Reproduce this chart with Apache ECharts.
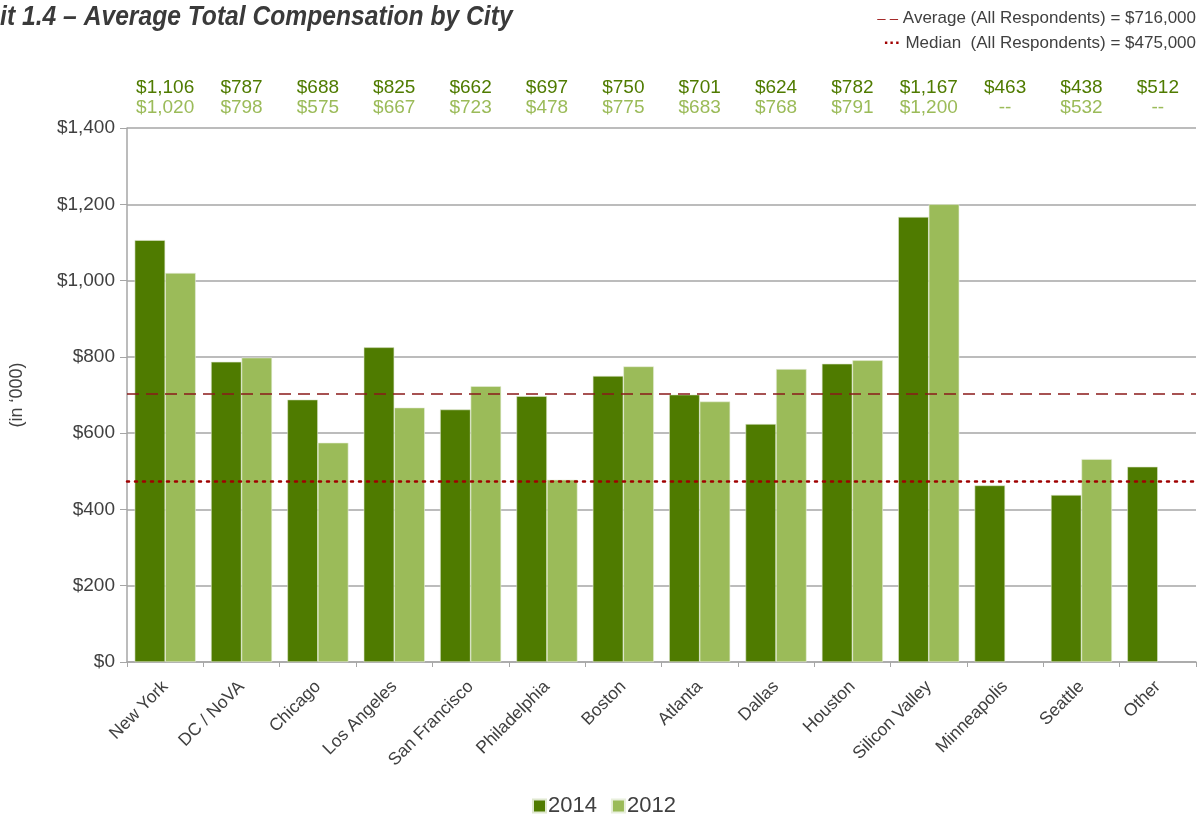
<!DOCTYPE html>
<html>
<head>
<meta charset="utf-8">
<script src="https://cdn.jsdelivr.net/npm/echarts@6/dist/echarts.min.js"></script>
<style>
  html, body { margin: 0; padding: 0; background: #fff; }
  #chart { width: 1202px; height: 817px; }
</style>
</head>
<body>
<div id="chart"></div>
<script>
// data
var cities = ['New York', 'DC / NoVA', 'Chicago', 'Los Angeles', 'San Francisco', 'Philadelphia',
  'Boston', 'Atlanta', 'Dallas', 'Houston', 'Silicon Valley', 'Minneapolis', 'Seattle', 'Other']
var comp2014 = [1106, 787, 688, 825, 662, 697, 750, 701, 624, 782, 1167, 463, 438, 512]
var comp2012 = [1020, 798, 575, 667, 723, 478, 775, 683, 768, 791, 1200, null, 532, null]
var yTicks = [0, 200, 400, 600, 800, 1000, 1200, 1400]
var averageLine = 704   // dashed line as drawn
var medianLine = 473    // dotted line as drawn
var averageText = 'Average (All Respondents) = $716,000'
var medianText = 'Median  (All Respondents) = $475,000'

var dark = '#4f7b00'
var light = '#9bbb59'

function money (v) {
  if (v === null || v === undefined) return '--'
  return '$' + v.toLocaleString('en-US')
}

var chart = echarts.init(document.getElementById('chart'))
chart.setOption({
  animation: false,
  textStyle: { fontFamily: 'Liberation Sans, Arial, sans-serif' },
  graphic: [
    {
      // title, squeezed to look like the condensed face of the original
      type: 'text',
      x: -67,
      y: 3,
      scaleX: 0.88,
      style: {
        text: 'Exhibit 1.4 \u2013 Average Total Compensation by City',
        font: 'italic bold 28px Liberation Sans, Arial',
        fill: '#3a3a3a'
      }
    },
    {
      type: 'text',
      right: 6,
      top: 10,
      style: {
        text: '{r|\u2013 \u2013} ' + averageText,
        font: '17px Liberation Sans, Arial',
        fill: '#404040',
        rich: { r: { fill: '#a52a2a', fontSize: 15 } }
      }
    },
    {
      type: 'text',
      right: 6,
      top: 35,
      style: {
        text: '{r|\u00b7\u00b7\u00b7} ' + medianText,
        font: '17px Liberation Sans, Arial',
        fill: '#404040',
        rich: { r: { fill: '#a00000', fontSize: 17, fontWeight: 'bold' } }
      }
    }
  ],
  legend: {
    top: 790,
    left: 527,
    itemWidth: 13,
    itemHeight: 13,
    itemGap: 14,
    icon: 'rect',
    textStyle: { fontSize: 22, color: '#404040', padding: [0, 0, 0, -3] },
    data: ['2014', '2012']
  },
  grid: { left: 127, right: 6, top: 128, bottom: 155 },
  xAxis: [
    {
      type: 'category',
      data: cities,
      axisLine: { lineStyle: { color: '#a6a6a6', width: 1.5 } },
      axisTick: { show: true, length: 5, lineStyle: { color: '#a6a6a6' } },
      axisLabel: {
        rotate: 45,
        fontSize: 17.5,
        color: '#404040',
        margin: 22,
        interval: 0
      }
    },
    {
      type: 'category',
      position: 'top',
      data: cities,
      axisLine: { show: false },
      axisTick: { show: false },
      axisLabel: {
        interval: 0,
        margin: 10,
        formatter: function (v, i) {
          return '{a|' + money(comp2014[i]) + '}\n{b|' + money(comp2012[i]) + '}'
        },
        rich: {
          a: { color: dark, fontSize: 19, lineHeight: 20, align: 'center' },
          b: { color: light, fontSize: 19, lineHeight: 20, align: 'center' }
        }
      }
    }
  ],
  yAxis: {
    type: 'value',
    min: yTicks[0],
    max: yTicks[yTicks.length - 1],
    interval: 200,
    name: "(in \u2018000)",
    nameLocation: 'middle',
    nameRotate: 90,
    nameGap: 101,
    nameTextStyle: { fontSize: 18, color: '#404040' },
    axisLine: { show: true, lineStyle: { color: '#a6a6a6', width: 1.5 } },
    axisTick: { show: true, length: 7, lineStyle: { color: '#a6a6a6' } },
    axisLabel: {
      fontSize: 19,
      color: '#404040',
      margin: 12,
      formatter: function (v) { return money(v) }
    },
    splitLine: { lineStyle: { color: '#a6a6a6', width: 1.5 } }
  },
  series: [
    {
      name: '2014',
      type: 'bar',
      data: comp2014,
      barGap: '0%',
      barCategoryGap: '20%',
      itemStyle: { color: dark, borderColor: '#dfe8cf', borderWidth: 0.6 },
      markLine: {
        silent: true,
        symbol: 'none',
        label: { show: false },
        z: 10,
        data: [
          { yAxis: averageLine, lineStyle: { color: '#8b1a1a', type: [12, 7], width: 1.5 } },
          { yAxis: medianLine, lineStyle: { color: '#a00000', type: [2, 6], width: 2.5, cap: 'round' } }
        ]
      }
    },
    {
      name: '2012',
      type: 'bar',
      data: comp2012,
      itemStyle: { color: light, borderColor: '#e8efdc', borderWidth: 0.6 }
    }
  ]
})
</script>
</body>
</html>
